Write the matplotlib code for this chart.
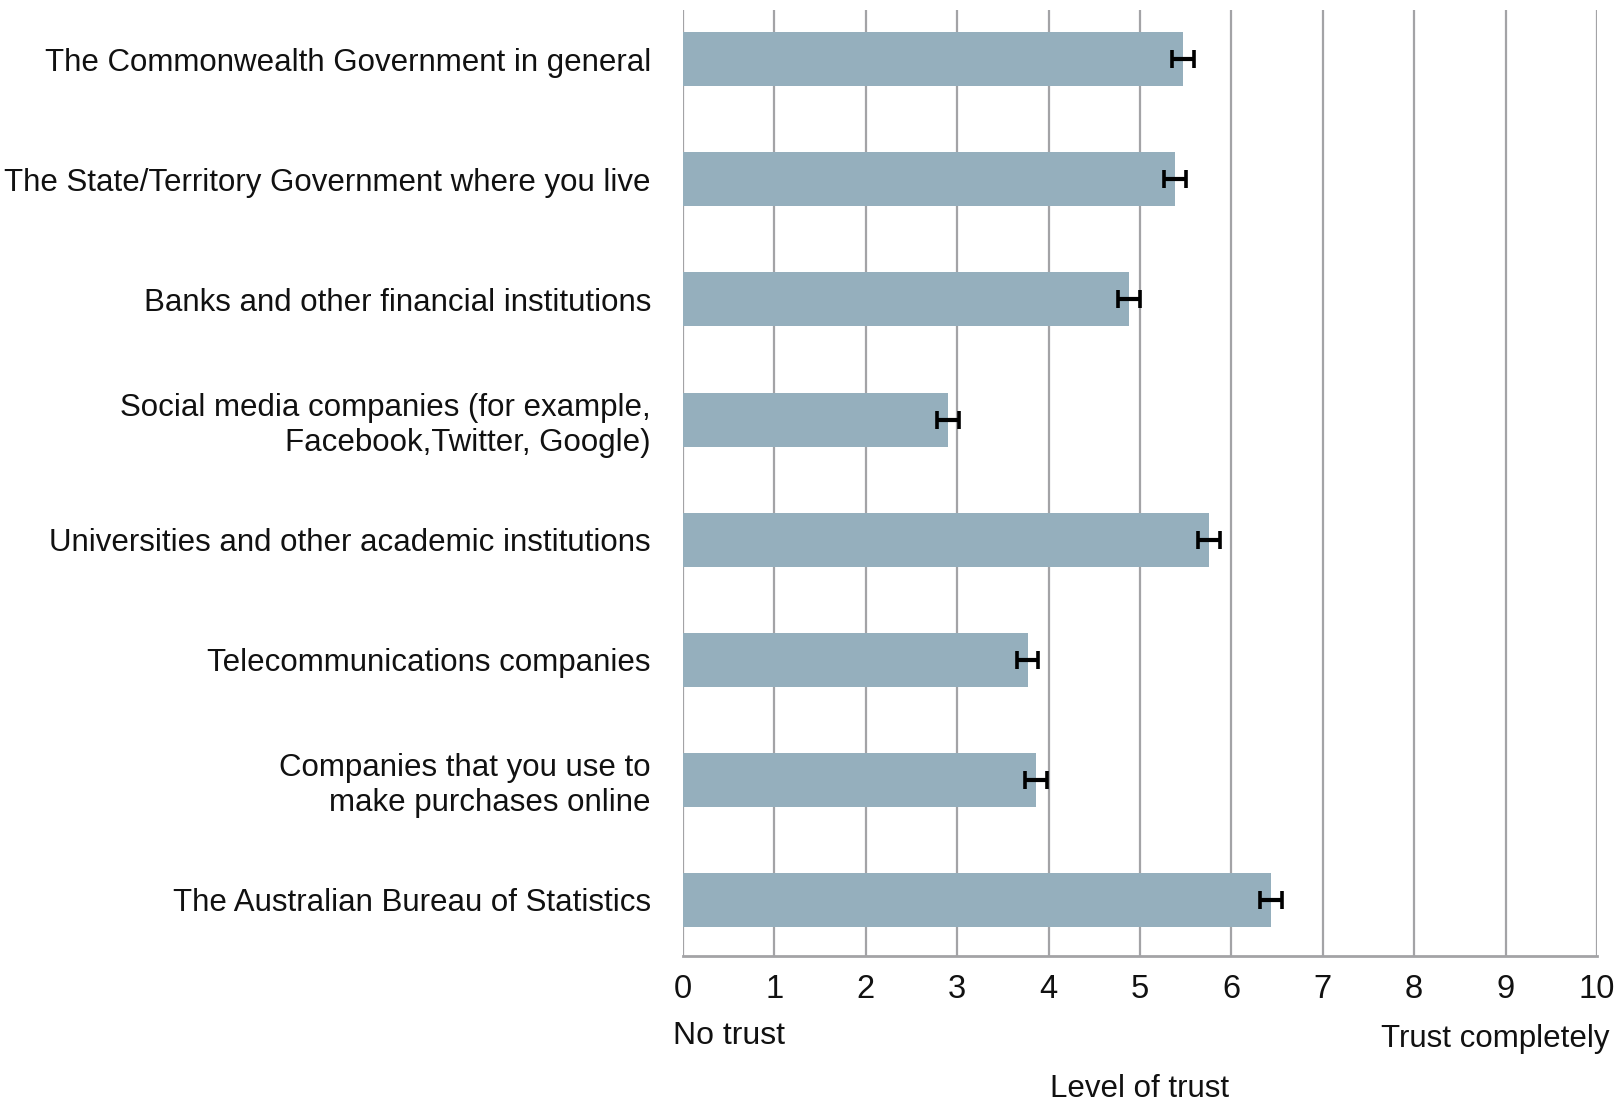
import matplotlib
matplotlib.use("Agg")
import matplotlib.pyplot as plt
import numpy as np

# Data
institutions = [
    "The Commonwealth Government in general",
    "The State/Territory Government where you live",
    "Banks and other financial institutions",
    "Social media companies (for example,\nFacebook,Twitter, Google)",
    "Universities and other academic institutions",
    "Telecommunications companies",
    "Companies that you use to\nmake purchases online",
    "The Australian Bureau of Statistics",
]
trust_mean = [5.47, 5.38, 4.88, 2.90, 5.76, 3.77, 3.86, 6.43]
trust_err = [0.12, 0.12, 0.12, 0.12, 0.12, 0.12, 0.12, 0.12]
x_ticks = list(range(0, 11))

_BAR = "#95afbd"
_GRID = "#a3a3a6"
_TXT = "#111111"

plt.rcParams["font.family"] = ["Liberation Sans", "DejaVu Sans"]

fig = plt.figure(figsize=(16.16, 11.03), dpi=100)
ax = fig.add_axes([0.4226, 0.1333, 0.5656, 0.8574])

y = np.arange(len(institutions))
ax.barh(y, trust_mean, height=0.45, color=_BAR, zorder=3, edgecolor="none")
ax.errorbar(trust_mean, y, xerr=trust_err, fmt="none", ecolor="black",
            elinewidth=3, capsize=6.5, capthick=2.6, zorder=4)

ax.set_xlim(0, 10)
ax.set_ylim(len(institutions) - 1 + 0.47, -0.41)
ax.set_xticks(x_ticks)
ax.set_xticklabels([str(t) for t in x_ticks], fontsize=23.5, color=_TXT)
ax.set_yticks(y)
ax.set_yticklabels(institutions, fontsize=22.5, color=_TXT)
ax.tick_params(axis="y", length=0, pad=23)
ax.tick_params(axis="x", length=0, pad=13)

ax.grid(axis="x", color=_GRID, lw=1.6, zorder=0)
for s in ("top", "right", "left"):
    ax.spines[s].set_visible(False)
ax.spines["bottom"].set_color(_GRID)
ax.spines["bottom"].set_linewidth(2)

trans = matplotlib.transforms.blended_transform_factory(ax.transData, ax.transAxes)
ax.text(-0.11, -0.085, "No trust", transform=trans, ha="left", va="center",
        fontsize=23, color=_TXT)
ax.text(10.14, -0.088, "Trust completely", transform=trans, ha="right",
        va="center", fontsize=22.5, color=_TXT)
ax.text(0.5, -0.141, "Level of trust", transform=ax.transAxes, ha="center",
        va="center", fontsize=22.5, color=_TXT)

fig.savefig("out.png", dpi=100, facecolor="white")
